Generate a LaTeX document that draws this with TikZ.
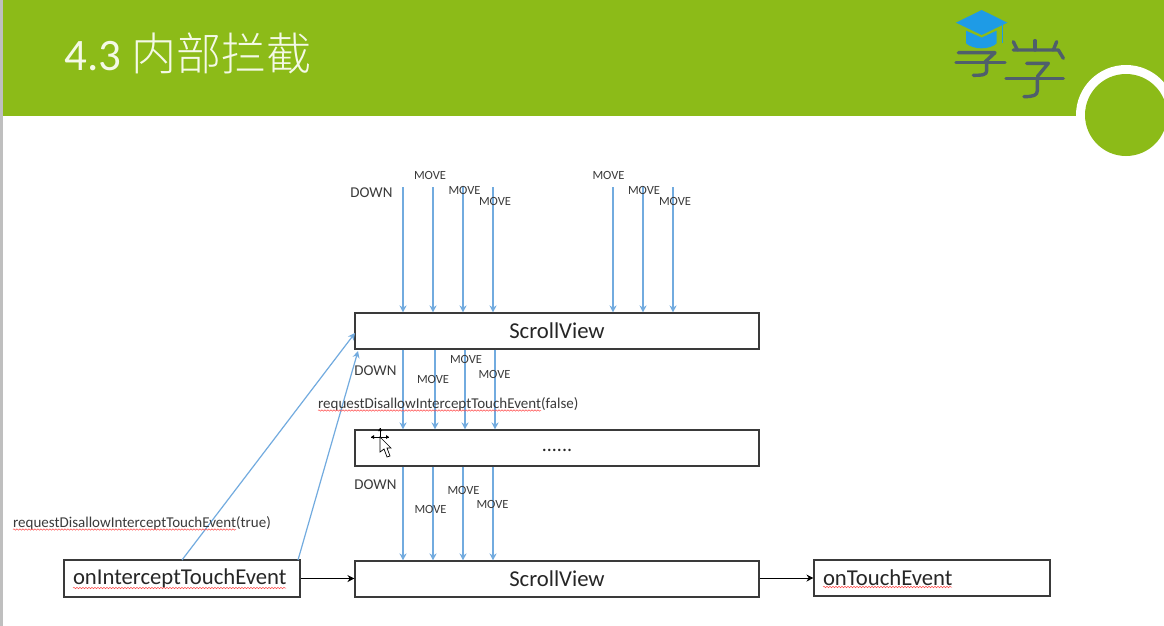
\documentclass[tikz,border=0pt]{standalone}
\usepackage{fontspec}
\usetikzlibrary{arrows.meta,decorations.pathmorphing}
\setmainfont{Carlito}
\newfontfamily\cjkfont{Noto Sans CJK SC Light}
\definecolor{hdr}{HTML}{8CBB18}
\definecolor{flowblue}{HTML}{72ABDF}
\definecolor{ink}{HTML}{3A3A3A}
\definecolor{logoink}{HTML}{4F5F6B}
\definecolor{capblue}{HTML}{1E9BE6}
\definecolor{titlecol}{HTML}{F4F9E6}
\tikzset{
  x=1pt,y=-1pt,
  flow/.style={draw=flowblue,line width=1.2pt,-{Stealth[length=7pt,width=7pt]}},
  blackarrow/.style={draw=black,line width=1pt,-{Stealth[length=7pt,width=7pt]}},
  boxnode/.style={draw=ink,line width=1.1pt,fill=white,inner sep=0pt,text=black!85,font=\fontsize{22.7}{26}\selectfont},
  downlabel/.style={inner sep=0pt,text=ink,font=\fontsize{15}{17}\selectfont},
  movelabel/.style={inner sep=0pt,text=ink,font=\fontsize{12.5}{14}\selectfont},
  reqlabel/.style={inner sep=0pt,text=ink,font=\fontsize{15}{17}\selectfont},
  squiggle/.style={draw=red!70!white,line width=.5pt,decorate,decoration={snake,amplitude=.7pt,segment length=3pt}},
  logostroke/.style={draw=logoink,line width=3.4pt,line cap=round,line join=round},
}
\begin{document}
\begin{tikzpicture}
\useasboundingbox (0,0) rectangle (1164,626);
\fill[white] (0,0) rectangle (1164,626);
\fill[black!25] (0,0) rectangle (3,626);
\fill[hdr] (3,0) rectangle (1164,116);
\fill[white] (1126,115) circle[radius=50];
\fill[hdr] (1126,115) circle[radius=41];
\node[anchor=west,inner sep=0pt,text=titlecol,font=\fontsize{45}{50}\selectfont] (title) at (64,53) {4.3\hspace{0.24em}{\cjkfont 内部拦截}};
% logo
\begin{scope}[shift={(930,0)},x=.3333pt,y=-.3333pt]
\fill[capblue] (155,30) -- (232,68) -- (155,105) -- (78,68) -- cycle;
\fill[capblue] (108,92) -- (155,113) -- (200,92) -- (200,130) .. controls (180,150) and (130,150) .. (108,130) -- cycle;
\draw[capblue,line width=1.6pt] (218,70) -- (218,128);
\draw[logostroke] (85,158) -- (195,158) -- (165,186);
\draw[logostroke] (78,188) -- (225,188);
\draw[logostroke] (170,190) -- (170,212) .. controls (170,224) and (160,226) .. (130,226);
\draw[logostroke] (250,125) -- (262,150);
\draw[logostroke] (315,122) -- (315,150);
\draw[logostroke] (380,125) -- (370,150);
\draw[logostroke] (250,150) -- (385,150) -- (400,175);
\draw[logostroke] (290,190) -- (355,190) -- (322,230);
\draw[logostroke] (228,235) -- (400,235);
\draw[logostroke] (322,235) -- (322,272) .. controls (322,286) and (310,290) .. (282,290);
\end{scope}
% boxes
\node[boxnode,minimum width=404pt,minimum height=36pt] (sv1) at (557,331) {ScrollView};
\node[boxnode,minimum width=404pt,minimum height=36pt,font=\fontsize{20}{24}\selectfont] (dots) at (557,448) {\raisebox{-8pt}{......}};
\node[boxnode,minimum width=404pt,minimum height=36pt] (sv2) at (557,579) {ScrollView};
\node[boxnode,minimum width=236pt,minimum height=37pt,align=left,text width=218pt] (oi) at (182,578.5) {onInterceptTouchEvent};
\node[boxnode,minimum width=236pt,minimum height=36pt,align=left,text width=218pt] (ot) at (932,578) {onTouchEvent};
% top arrows
\foreach \n/\x in {a/403,b/433,c/463,d/493,e/613,f/643,g/673}{
  \coordinate (top\n) at (\x,187);
  \draw[flow] (top\n) -- (top\n |- sv1.north);
}
% middle arrows
\foreach \n/\x in {a/403,b/435,c/465,d/495}{
  \coordinate (mid\n) at (\x,349);
  \draw[flow] (mid\n |- sv1.south) -- (mid\n |- dots.north);
}
% lower arrows
\foreach \n/\x in {a/403,b/433,c/463,d/493}{
  \coordinate (low\n) at (\x,466);
  \draw[flow] (low\n |- dots.south) -- (low\n |- sv2.north);
}
% diagonal arrows
\coordinate (oitopa) at (182,560);
\coordinate (oitopb) at (298,560);
\coordinate (sva) at (355,333);
\coordinate (svb) at (358,351);
\draw[flow] (oitopa) -- (sva);
\draw[flow] (oitopb) -- (svb);
% black arrows
\draw[blackarrow] (oi.east) -- (oi.east -| sv2.west);
\draw[blackarrow] (sv2.east |- ot.west) -- (ot.west);
% labels
\node[downlabel] (l1) at (371.5,192.5) {DOWN};
\node[movelabel] (l2) at (430,175.5) {MOVE};
\node[movelabel] (l3) at (464.5,190.5) {MOVE};
\node[movelabel] (l4) at (495,201) {MOVE};
\node[movelabel] (l5) at (608.5,175.5) {MOVE};
\node[movelabel] (l6) at (644,190.5) {MOVE};
\node[movelabel] (l7) at (675,201) {MOVE};
\node[downlabel] (l8) at (375.5,370.5) {DOWN};
\node[movelabel] (l9) at (433,379.5) {MOVE};
\node[movelabel] (l10) at (466,359.5) {MOVE};
\node[movelabel] (l11) at (494.5,374) {MOVE};
\node[downlabel] (l12) at (375.5,485) {DOWN};
\node[movelabel] (l13) at (430.5,509) {MOVE};
\node[movelabel] (l14) at (463.5,490) {MOVE};
\node[movelabel] (l15) at (492.5,504) {MOVE};
\node[reqlabel,anchor=west] (rf) at (318,404.5) {requestDisallowInterceptTouchEvent(false)};
\node[reqlabel,anchor=west] (rt) at (13,523.5) {requestDisallowInterceptTouchEvent(true)};
% spell-check squiggles
\draw[squiggle] (318,410.5) -- (541,410.5);
\draw[squiggle] (13,529.5) -- (236,529.5);
\draw[squiggle] (73,588) -- (286,588);
\draw[squiggle] (823,587) -- (952,587);
% cursor
\begin{scope}[line width=.7pt]
\draw[black] (371,437) -- (389,437) (380,428) -- (380,446);
\fill[black] (371,437) -- (374,435) -- (374,439) -- cycle (389,437) -- (386,435) -- (386,439) -- cycle (380,428) -- (378,431) -- (382,431) -- cycle;
\filldraw[fill=white,draw=black] (380,437) -- (380,452) -- (384,449) -- (387,457) -- (390,456) -- (387,448) -- (391,448) -- cycle;
\end{scope}
\end{tikzpicture}
\end{document}
